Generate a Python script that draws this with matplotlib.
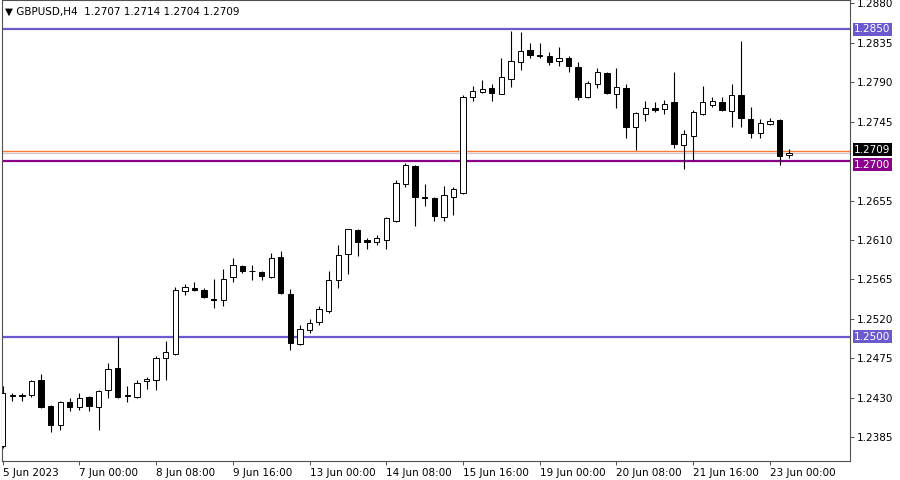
import matplotlib
matplotlib.use('Agg')
import matplotlib.pyplot as plt
import matplotlib.transforms as mtransforms
import numpy as np

# GBPUSD H4 candles (index 0 = 5 Jun 16:00)
opens = [1.2375, 1.2433, 1.2432, 1.2433, 1.2450, 1.2421, 1.2399, 1.2425, 1.2420, 1.2431,
         1.2420, 1.2439, 1.2464, 1.2433, 1.2431, 1.2449, 1.2450, 1.2476, 1.2480, 1.2552,
         1.2555, 1.2553, 1.2543, 1.2542, 1.2568, 1.2580, 1.2575, 1.2574, 1.2568, 1.2591,
         1.2549, 1.2491, 1.2507, 1.2517, 1.2529, 1.2564, 1.2594, 1.2621, 1.2610, 1.2608,
         1.2610, 1.2632, 1.2674, 1.2694, 1.2659, 1.2658, 1.2636, 1.2659, 1.2664, 1.2773,
         1.2779, 1.2783, 1.2777, 1.2794, 1.2813, 1.2827, 1.2821, 1.2820, 1.2814, 1.2817,
         1.2807, 1.2773, 1.2788, 1.2800, 1.2777, 1.2783, 1.2739, 1.2754, 1.2760, 1.2759,
         1.2767, 1.2718, 1.2729, 1.2754, 1.2764, 1.2767, 1.2757, 1.2775, 1.2748, 1.2732,
         1.2742, 1.2747, 1.2707]
highs = [1.2444, 1.2436, 1.2436, 1.2450, 1.2457, 1.2422, 1.2427, 1.2430, 1.2436, 1.2432,
         1.2439, 1.2470, 1.2500, 1.2444, 1.2450, 1.2454, 1.2478, 1.2495, 1.2556, 1.2560,
         1.2562, 1.2555, 1.2566, 1.2577, 1.2590, 1.2582, 1.2581, 1.2575, 1.2595, 1.2598,
         1.2554, 1.2513, 1.2520, 1.2535, 1.2575, 1.2604, 1.2623, 1.2623, 1.2612, 1.2616,
         1.2636, 1.2678, 1.2698, 1.2695, 1.2674, 1.2659, 1.2672, 1.2671, 1.2775, 1.2785,
         1.2792, 1.2788, 1.2818, 1.2848, 1.2847, 1.2835, 1.2835, 1.2824, 1.2830, 1.2820,
         1.2813, 1.2791, 1.2806, 1.2802, 1.2806, 1.2788, 1.2756, 1.2768, 1.2767, 1.2770,
         1.2802, 1.2735, 1.2758, 1.2785, 1.2773, 1.2773, 1.2788, 1.2837, 1.2762, 1.2748,
         1.2749, 1.2748, 1.2714]
lows = [1.2373, 1.2426, 1.2426, 1.2431, 1.2418, 1.2391, 1.2393, 1.2415, 1.2416, 1.2415,
        1.2393, 1.2430, 1.2430, 1.2425, 1.2430, 1.2440, 1.2439, 1.2451, 1.2479, 1.2547,
        1.2552, 1.2544, 1.2532, 1.2535, 1.2562, 1.2572, 1.2564, 1.2564, 1.2567, 1.2549,
        1.2485, 1.2490, 1.2504, 1.2513, 1.2527, 1.2555, 1.2571, 1.2592, 1.2600, 1.2604,
        1.2600, 1.2630, 1.2670, 1.2626, 1.2649, 1.2632, 1.2632, 1.2639, 1.2662, 1.2768,
        1.2778, 1.2768, 1.2776, 1.2784, 1.2804, 1.2818, 1.2818, 1.2810, 1.2808, 1.2802,
        1.2770, 1.2772, 1.2783, 1.2777, 1.2761, 1.2726, 1.2713, 1.2746, 1.2756, 1.2754,
        1.2715, 1.2691, 1.2701, 1.2753, 1.2762, 1.2757, 1.2739, 1.2739, 1.2726, 1.2726,
        1.2741, 1.2696, 1.2704]
closes = [1.2436, 1.2432, 1.2433, 1.2449, 1.2420, 1.2399, 1.2425, 1.2420, 1.2430, 1.2421,
          1.2438, 1.2463, 1.2431, 1.2432, 1.2447, 1.2452, 1.2476, 1.2482, 1.2553, 1.2556,
          1.2553, 1.2545, 1.2542, 1.2566, 1.2582, 1.2575, 1.2575, 1.2569, 1.2590, 1.2550,
          1.2493, 1.2508, 1.2515, 1.2531, 1.2564, 1.2593, 1.2622, 1.2608, 1.2608, 1.2612,
          1.2635, 1.2675, 1.2695, 1.2659, 1.2658, 1.2637, 1.2661, 1.2668, 1.2773, 1.2780,
          1.2782, 1.2778, 1.2796, 1.2814, 1.2826, 1.2821, 1.2820, 1.2813, 1.2818, 1.2808,
          1.2773, 1.2789, 1.2801, 1.2778, 1.2784, 1.2739, 1.2755, 1.2760, 1.2758, 1.2765,
          1.2719, 1.2731, 1.2756, 1.2767, 1.2769, 1.2758, 1.2775, 1.2749, 1.2732, 1.2743,
          1.2746, 1.2706, 1.2709]

time_tick_idx = [0, 8, 16, 24, 32, 40, 48, 56, 64, 72, 80]
time_tick_labels = ['5 Jun 2023', '7 Jun 00:00', '8 Jun 08:00', '9 Jun 16:00', '13 Jun 00:00',
                    '14 Jun 08:00', '15 Jun 16:00', '19 Jun 00:00', '20 Jun 08:00',
                    '21 Jun 16:00', '23 Jun 00:00']
price_ticks = [1.2385, 1.2430, 1.2475, 1.2520, 1.2565, 1.2610, 1.2655, 1.2745, 1.2790, 1.2835, 1.2880]

levels = [1.2850, 1.2500]      # blue horizontal levels
level_mid = 1.2700             # purple level
bid = 1.2709
ask = 1.2712
title = '\u25bc GBPUSD,H4  1.2707 1.2714 1.2704 1.2709'

#plot setup
fig = plt.figure(figsize=(9, 4.8), dpi=100)
ax = fig.add_axes([2/900, 19/480, 848/900, 461/480])
ax.set_xlim(-0.07, 88.35)
ax.set_ylim(1.23581, 1.28836)

o = np.array(opens); h = np.array(highs); l = np.array(lows); c = np.array(closes)
x = np.arange(len(o))
up = c >= o

ax.vlines(x, l, h, color='black', linewidth=0.8, zorder=3)
body_low = np.minimum(o, c)
body_h = np.maximum(np.abs(c - o), 0.00002)
ax.bar(x[up], body_h[up], bottom=body_low[up], width=0.56, color='white',
       edgecolor='black', linewidth=0.7, zorder=4)
ax.bar(x[~up], body_h[~up], bottom=body_low[~up], width=0.56, color='black',
       edgecolor='black', linewidth=0.7, zorder=4)

# horizontal levels
for lv in levels:
    ax.axhline(lv, color='#6a5acd', linewidth=1.6, zorder=2)
ax.axhline(level_mid, color='#8b008b', linewidth=1.6, zorder=2)
ax.axhline(ask, color='#ff7a35', linewidth=1.0, zorder=2)
ax.axhline(bid, color='#c8c8c8', linewidth=0.9, zorder=2)

# axes
for s in ax.spines.values():
    s.set_color('#505050')
    s.set_linewidth(0.8)
ax.yaxis.tick_right()
ax.set_yticks(price_ticks)
ax.set_yticklabels(['%.4f' % p for p in price_ticks])
ax.set_xticks(time_tick_idx)
ax.set_xticklabels(time_tick_labels, ha='left')
ax.tick_params(axis='both', labelsize=7.5, length=3, width=0.7, color='#505050', pad=2)

# price boxes on right scale (shifted a few points so they don't overlap)
trans = mtransforms.blended_transform_factory(ax.transAxes, ax.transData)
boxes = [(1.2850, '#6a5acd', 0), (1.2500, '#6a5acd', 0), (level_mid, '#8b008b', -2.5), (bid, 'black', 2.5)]
for p, col, dy in boxes:
    ax.annotate('%.4f' % p, xy=(1.0, p), xycoords=trans, xytext=(3, dy), textcoords='offset points',
                ha='left', va='center', fontsize=7.5, color='white', zorder=6,
                annotation_clip=False,
                bbox=dict(boxstyle='square,pad=0.15', fc=col, ec='none'))
# orange strip on top of the current price box
ax.annotate('', xy=(1.003, ask), xycoords=trans, xytext=(1.052, ask), textcoords=trans,
            arrowprops=dict(arrowstyle='-', color='#ff7a35', lw=1.2), annotation_clip=False)

fig.text(5/900, 1 - 12/480, title, ha='left', va='center', fontsize=7.5, color='black')

fig.savefig('out.png', dpi=100)
